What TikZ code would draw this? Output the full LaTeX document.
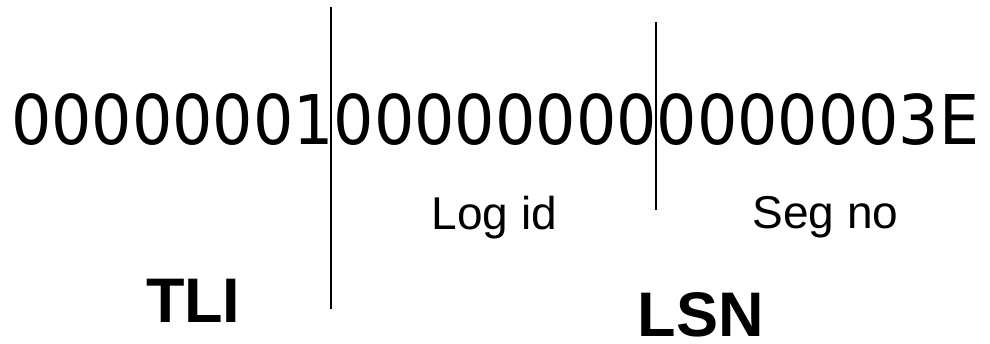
\documentclass[tikz,border=0pt]{standalone}
\usepackage{fontspec}
\setmainfont{Liberation Sans}
\newfontfamily\digitfont{DejaVu Sans}
\newfontfamily\labelfont{Liberation Sans}
\tikzset{
  txt/.style={inner sep=0pt, outer sep=0pt, anchor=base west},
  bignum/.style={txt, font=\digitfont\fontsize{68.6pt}{70pt}\selectfont},
  small/.style={txt, font=\labelfont\fontsize{46pt}{48pt}\selectfont},
  bold/.style={txt, font=\labelfont\bfseries\fontsize{63pt}{65pt}\selectfont},
  divider/.style={line width=1.2pt, black}
}
\begin{document}
\begin{tikzpicture}[x=1pt,y=-1pt]
\useasboundingbox (0,0) rectangle (990,344);
\node[bignum] (num) at (11,145) {\scalebox{0.925}[1]{00000001%
00000000%
0000003E}};
\coordinate (a1) at (331,7);
\coordinate (a2) at (331,309);
\coordinate (b1) at (656,22);
\coordinate (b2) at (656,210);
\draw[divider] (a1) -- (a2);
\draw[divider] (b1) -- (b2);
\node[small] (logid) at (431.6,230) {Log id};
\node[small] (segno) at (752.7,229) {Seg no};
\node[bold] (tli) at (146,323) {TLI};
\node[bold] (lsn) at (637.5,337) {LSN};
\end{tikzpicture}
\end{document}
